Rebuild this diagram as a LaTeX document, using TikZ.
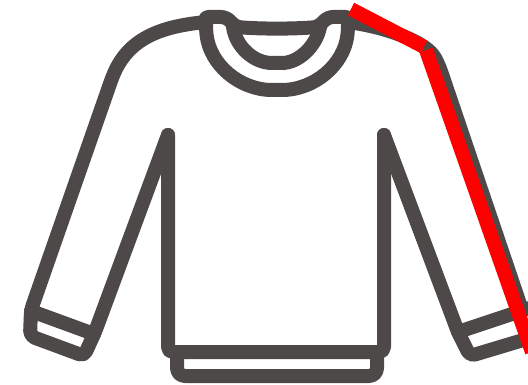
\documentclass[tikz,border=0pt]{standalone}
\usepackage{xcolor}
\usepackage{tikz}
\definecolor{shirtgray}{RGB}{77, 73, 72}
\definecolor{markred}{RGB}{255, 0, 0}

\begin{document}
\begin{tikzpicture}[
  x=1pt, y=-1pt,
  outline/.style={draw=shirtgray, line width=14pt, rounded corners=5pt, line join=round, line cap=round},
  marker/.style={draw=markred, line width=14pt, line cap=butt, line join=miter}
]
  \useasboundingbox (0,0) rectangle (528,385);
  \clip (0,0) rectangle (528,385);

  % Collar
  \draw[outline] (206,18) -- (206,30) .. controls (210,65) and (240,90) .. (277,90) .. controls (314,90) and (344,65) .. (348,30) -- (348,18);
  \draw[outline] (233,27) .. controls (236,47) and (254,63) .. (277,63) .. controls (298,63) and (316,47) .. (320,27);
  \draw[outline] (208,17) -- (226,17) -- (236,27) .. controls (262,29) and (292,29) .. (318,27) -- (328,17) -- (346,17);

  % Left sleeve and cuff
  \draw[outline] (206,22) .. controls (165,26) and (130,36) .. (112,78) -- (31,310) -- (30,336) -- (84,356) -- (95,332) -- (168,135);
  \draw[outline] (31,311) -- (94,334);

  % Body and hem
  \draw[outline] (168,135) -- (168,352) -- (384,352) -- (384,135);
  \draw[outline, rounded corners=8pt] (177,352) -- (177,376) -- (377,376) -- (377,352);

  % Right sleeve and cuff
  \draw[outline] (348,22) .. controls (378,26) and (410,36) .. (431,52) .. controls (438,62) and (442,74) .. (446,86) -- (522,310);
  \draw[outline] (384,135) -- (458,332) -- (470,356) -- (530,338);
  \draw[outline] (458,332) -- (530,308);

  % Red measure
  \draw[marker] (351,9) -- (424,47);
  \draw[marker] (426,50) -- (532,352);
\end{tikzpicture}
\end{document}
